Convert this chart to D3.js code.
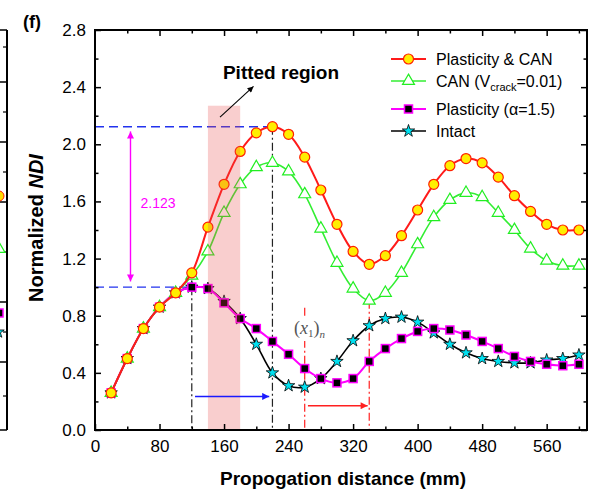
<!DOCTYPE html>
<html><head><meta charset="utf-8">
<script src="https://cdn.jsdelivr.net/npm/d3@7"></script>
<style>
body{margin:0;background:#fff;}
svg{display:block;font-family:"Liberation Sans",Arial,sans-serif;}
</style></head>
<body>
<svg id="c" width="599" height="495"></svg>
<script>
// ---- data ----
const distance = [20,40,60,80,100,120,140,160,180,200,220,240,260,280,300,320,340,360,380,400,420,440,460,480,500,520,540,560,580,600];
const plasticityCAN = [0.26,0.50,0.71,0.86,0.96,1.10,1.42,1.72,1.95,2.08,2.123,2.07,1.91,1.68,1.44,1.25,1.16,1.22,1.36,1.54,1.72,1.85,1.90,1.87,1.77,1.64,1.53,1.44,1.40,1.40];
const canOnly = [0.26,0.50,0.71,0.86,0.96,1.08,1.25,1.52,1.72,1.84,1.87,1.81,1.65,1.41,1.17,0.99,0.905,0.96,1.10,1.30,1.49,1.61,1.66,1.63,1.52,1.40,1.27,1.185,1.15,1.15];
const plasticity = [0.26,0.50,0.71,0.86,0.96,1.00,0.99,0.89,0.78,0.71,0.62,0.53,0.43,0.36,0.33,0.36,0.48,0.57,0.64,0.69,0.71,0.70,0.665,0.62,0.57,0.515,0.48,0.46,0.45,0.46];
const intact = [0.26,0.50,0.71,0.86,0.96,1.00,0.99,0.90,0.78,0.60,0.40,0.31,0.30,0.36,0.48,0.625,0.73,0.78,0.79,0.755,0.68,0.60,0.54,0.50,0.48,0.47,0.47,0.49,0.50,0.525];
const xMajorTicks = [0,80,160,240,320,400,480,560];
const xMinorTicks = [40,120,200,280,360,440,520,600];
const yMajorTicks = [0.0,0.4,0.8,1.2,1.6,2.0,2.4,2.8];
const yMinorTicks = [0.2,0.6,1.0,1.4,1.8,2.2,2.6];
const legendLabels = ["Plasticity & CAN","CAN (V","Plasticity (\u03b1=1.5)","Intact"];
const peakValue = 2.123, peakX = 220, refValue = 1.0, refX = 120;
const pittedStart = 140, pittedEnd = 180, pittedTop = 2.27;
const minX1 = 260, minX2 = 340;

// ---- layout ----
const svg = d3.select("#c");
const x = d3.scaleLinear().domain([0,610]).range([95,587]);
const y = d3.scaleLinear().domain([0,2.8]).range([430,30]);
const FONT = '"Liberation Sans",Arial,sans-serif';

const defs = svg.append("defs");
function arrowMarker(id,color,w,h){
  defs.append("marker").attr("id",id).attr("viewBox","0 0 10 10")
    .attr("refX",10).attr("refY",5).attr("markerWidth",w).attr("markerHeight",h)
    .attr("markerUnits","userSpaceOnUse").attr("orient","auto-start-reverse")
    .append("path").attr("d","M0,0L10,5L0,10Z").attr("fill",color);
}
arrowMarker("aBlue","#1a1aff",8,7);
arrowMarker("aRed","#ff2020",8,7);
arrowMarker("aMag","#ff00ff",8,7);
arrowMarker("aBlk","#000",7,6);

const starPath = d3.symbol(d3.symbolStar,48)();
const triPath = d3.symbol(d3.symbolTriangle,62)();

// ---- left neighbouring panel remnant ----
const lp = svg.append("g");
lp.append("line").attr("x1",7).attr("x2",7).attr("y1",30).attr("y2",430).attr("stroke","#000").attr("stroke-width",2);
[30,82,142,202,302,362,430].forEach(v=>lp.append("line").attr("x1",0).attr("x2",7).attr("y1",v).attr("y2",v).attr("stroke","#000").attr("stroke-width",1.5));
[47,112,172,252,332,396].forEach(v=>lp.append("line").attr("x1",3).attr("x2",7).attr("y1",v).attr("y2",v).attr("stroke","#000").attr("stroke-width",1.2));
lp.append("circle").attr("cx",-1).attr("cy",196).attr("r",5).attr("fill","#ffdd00").attr("stroke","#ff2000");
lp.append("path").attr("d",triPath).attr("transform","translate(-1,249)").attr("fill","#fff").attr("stroke","#22ee22").attr("stroke-width",1.2);
lp.append("rect").attr("x",-5).attr("y",309).attr("width",8).attr("height",8).attr("fill","#000").attr("stroke","#ff00ff").attr("stroke-width",1.5);
lp.append("path").attr("d",starPath).attr("transform","translate(-2,332)").attr("fill","#00e0f0").attr("stroke","#000").attr("stroke-width",0.8);

// ---- guide lines (behind curves) ----
const g = svg.append("g");
g.append("line").attr("x1",x(0)).attr("x2",x(peakX)).attr("y1",y(peakValue)).attr("y2",y(peakValue))
  .attr("stroke","#2233ee").attr("stroke-width",1.4).attr("stroke-dasharray","9,5");
g.append("line").attr("x1",x(0)).attr("x2",x(refX)).attr("y1",y(refValue)).attr("y2",y(refValue))
  .attr("stroke","#2233ee").attr("stroke-width",1.4).attr("stroke-dasharray","9,5");
g.append("line").attr("x1",x(refX)).attr("x2",x(refX)).attr("y1",y(refValue)).attr("y2",y(0))
  .attr("stroke","#222").attr("stroke-width",1.2).attr("stroke-dasharray","8,3,2,3");
g.append("line").attr("x1",x(peakX)).attr("x2",x(peakX)).attr("y1",y(peakValue)).attr("y2",y(0))
  .attr("stroke","#222").attr("stroke-width",1.2).attr("stroke-dasharray","8,3,2,3");
g.append("line").attr("x1",x(minX1)).attr("x2",x(minX1)).attr("y1",y(0.855)).attr("y2",y(0))
  .attr("stroke","#ff2020").attr("stroke-width",1.2).attr("stroke-dasharray","8,3,2,3");
g.append("line").attr("x1",x(minX2)).attr("x2",x(minX2)).attr("y1",y(0.905)).attr("y2",y(0))
  .attr("stroke","#ff2020").attr("stroke-width",1.2).attr("stroke-dasharray","8,3,2,3");

// ---- series ----
const curve = d3.curveCatmullRom.alpha(0.5);
function series(vals,color,width){
  const pts = distance.map((d,i)=>[d,vals[i]]);
  svg.append("path").datum(pts)
    .attr("d",d3.line().x(d=>x(d[0])).y(d=>y(d[1])).curve(curve))
    .attr("fill","none").attr("stroke",color).attr("stroke-width",width);
  return pts;
}

const pI = series(intact,"#000",1.6);
svg.append("g").selectAll("path").data(pI).join("path").attr("d",starPath)
  .attr("transform",d=>`translate(${x(d[0])},${y(d[1])})`)
  .attr("fill","#00e0f0").attr("stroke","#000").attr("stroke-width",0.8);

const pP = series(plasticity,"#ff00ff",2);
svg.append("g").selectAll("rect").data(pP).join("rect")
  .attr("x",d=>x(d[0])-4).attr("y",d=>y(d[1])-4).attr("width",8).attr("height",8)
  .attr("fill","#000").attr("stroke","#ff00ff").attr("stroke-width",1.5);

const pC = series(canOnly,"#33ee33",1.6);
svg.append("g").selectAll("path").data(pC).join("path").attr("d",triPath)
  .attr("transform",d=>`translate(${x(d[0])},${y(d[1])})`)
  .attr("fill","#fff").attr("stroke","#22ee22").attr("stroke-width",1.2);

const pR = series(plasticityCAN,"#ff1a1a",2);
svg.append("g").selectAll("circle").data(pR).join("circle")
  .attr("cx",d=>x(d[0])).attr("cy",d=>y(d[1])).attr("r",5)
  .attr("fill","#ffee00").attr("stroke","#ff2000").attr("stroke-width",1.2);

// ---- pitted region overlay ----
svg.append("rect").attr("x",x(pittedStart)).attr("width",x(pittedEnd)-x(pittedStart))
  .attr("y",y(pittedTop)).attr("height",y(0)-y(pittedTop))
  .attr("fill","#e84a4a").attr("opacity",0.27);

// ---- annotations ----
svg.append("line").attr("x1",x(44)).attr("x2",x(44)).attr("y1",y(1.04)).attr("y2",y(2.09))
  .attr("stroke","#ff00ff").attr("stroke-width",1.4)
  .attr("marker-start","url(#aMag)").attr("marker-end","url(#aMag)");
svg.append("text").attr("x",x(44)+10).attr("y",208).attr("fill","#ff00ff")
  .attr("font-size",14).attr("font-family",FONT).text("2.123");

svg.append("line").attr("x1",x(124)).attr("x2",x(216)).attr("y1",y(0.235)).attr("y2",y(0.235))
  .attr("stroke","#1a1aff").attr("stroke-width",1.5).attr("marker-end","url(#aBlue)");
svg.append("line").attr("x1",x(264)).attr("x2",x(338)).attr("y1",y(0.17)).attr("y2",y(0.17))
  .attr("stroke","#ff2020").attr("stroke-width",1.5).attr("marker-end","url(#aRed)");

svg.append("text").attr("x",281).attr("y",79).attr("text-anchor","middle")
  .attr("font-size",19).attr("font-weight","bold").attr("font-family",FONT).text("Pitted region");
svg.append("line").attr("x1",x(155)).attr("y1",y(2.19)).attr("x2",x(196.5)).attr("y2",y(2.405))
  .attr("stroke","#000").attr("stroke-width",1.1).attr("marker-end","url(#aBlk)");

// (x1)n label with white background
svg.append("rect").attr("x",293).attr("y",316).attr("width",34).attr("height",25).attr("fill","#fff");
const xl = svg.append("text").attr("x",294).attr("y",334).attr("fill","#555")
  .attr("font-family",'"Liberation Serif","Times New Roman",serif').attr("font-size",18);
xl.append("tspan").text("(");
xl.append("tspan").attr("font-style","italic").text("x");
xl.append("tspan").attr("font-size",11).attr("dy",3).text("1");
xl.append("tspan").attr("dy",-3).text(")");
xl.append("tspan").attr("font-size",11).attr("font-style","italic").attr("dy",4).text("n");

// ---- axes ----
function styleAxis(sel){
  sel.select(".domain").remove();
  sel.selectAll(".tick line").attr("stroke","#000").attr("stroke-width",1.5);
  sel.selectAll("text").attr("font-size",17).attr("font-family",FONT).attr("fill","#000");
}
svg.append("g").attr("transform","translate(0,430)")
  .call(d3.axisBottom(x).tickValues(xMajorTicks).tickSize(-6).tickPadding(10).tickFormat(d3.format("d")))
  .call(styleAxis);
svg.append("g").attr("transform","translate(0,430)")
  .call(d3.axisBottom(x).tickValues(xMinorTicks).tickSize(-3.5).tickFormat(""))
  .call(styleAxis);
svg.append("g").attr("transform","translate(0,30)")
  .call(d3.axisTop(x).tickValues(xMajorTicks.slice(1)).tickSize(-6).tickFormat(""))
  .call(styleAxis);
svg.append("g").attr("transform","translate(0,30)")
  .call(d3.axisTop(x).tickValues(xMinorTicks).tickSize(-3.5).tickFormat(""))
  .call(styleAxis);
svg.append("g").attr("transform","translate(95,0)")
  .call(d3.axisLeft(y).tickValues(yMajorTicks).tickSize(-6).tickPadding(9).tickFormat(d3.format(".1f")))
  .call(styleAxis);
svg.append("g").attr("transform","translate(95,0)")
  .call(d3.axisLeft(y).tickValues(yMinorTicks).tickSize(-3.5).tickFormat(""))
  .call(styleAxis);
svg.append("g").attr("transform","translate(587,0)")
  .call(d3.axisRight(y).tickValues(yMajorTicks).tickSize(-6).tickFormat(""))
  .call(styleAxis);
svg.append("g").attr("transform","translate(587,0)")
  .call(d3.axisRight(y).tickValues(yMinorTicks).tickSize(-3.5).tickFormat(""))
  .call(styleAxis);
svg.append("rect").attr("x",95).attr("y",30).attr("width",492).attr("height",400)
  .attr("fill","none").attr("stroke","#000").attr("stroke-width",2);

// ---- titles ----
svg.append("text").attr("x",343).attr("y",485).attr("text-anchor","middle")
  .attr("font-size",19).attr("font-weight","bold").attr("font-family",FONT).text("Propogation distance (mm)");
const yt = svg.append("text").attr("transform","translate(43,228) rotate(-90)").attr("text-anchor","middle")
  .attr("font-size",20).attr("font-weight","bold").attr("font-family",FONT);
yt.append("tspan").text("Normalized ");
yt.append("tspan").attr("font-style","italic").text("NDI");
svg.append("text").attr("x",23).attr("y",28).attr("font-size",18).attr("font-weight","bold")
  .attr("font-family",FONT).text("(f)");

// ---- legend ----
const legY = [59,81,109,131];
const lg = svg.append("g");
const lx1 = 391, lx2 = 426, lm = 408.5, ltx = 436;
lg.append("line").attr("x1",lx1).attr("x2",lx2).attr("y1",legY[0]).attr("y2",legY[0]).attr("stroke","#ff1a1a").attr("stroke-width",2);
lg.append("circle").attr("cx",lm).attr("cy",legY[0]).attr("r",5).attr("fill","#ffee00").attr("stroke","#ff2000").attr("stroke-width",1.2);
lg.append("line").attr("x1",lx1).attr("x2",lx2).attr("y1",legY[1]).attr("y2",legY[1]).attr("stroke","#33ee33").attr("stroke-width",1.6);
lg.append("path").attr("d",triPath).attr("transform",`translate(${lm},${legY[1]})`).attr("fill","#fff").attr("stroke","#22ee22").attr("stroke-width",1.2);
lg.append("line").attr("x1",lx1).attr("x2",lx2).attr("y1",legY[2]).attr("y2",legY[2]).attr("stroke","#ff00ff").attr("stroke-width",2);
lg.append("rect").attr("x",lm-4).attr("y",legY[2]-4).attr("width",8).attr("height",8).attr("fill","#000").attr("stroke","#ff00ff").attr("stroke-width",1.5);
lg.append("line").attr("x1",lx1).attr("x2",lx2).attr("y1",legY[3]).attr("y2",legY[3]).attr("stroke","#000").attr("stroke-width",1.6);
lg.append("path").attr("d",starPath).attr("transform",`translate(${lm},${legY[3]})`).attr("fill","#00e0f0").attr("stroke","#000").attr("stroke-width",0.8);

legendLabels.forEach((t,i)=>{
  const tx = lg.append("text").attr("x",ltx).attr("y",legY[i]+6).attr("font-size",16).attr("font-family",FONT).attr("fill","#000");
  tx.append("tspan").text(t);
  if(i===1){
    tx.append("tspan").attr("font-size",11).attr("dy",4).text("crack");
    tx.append("tspan").attr("dy",-4).text("=0.01)");
  }
});
</script>
</body></html>
